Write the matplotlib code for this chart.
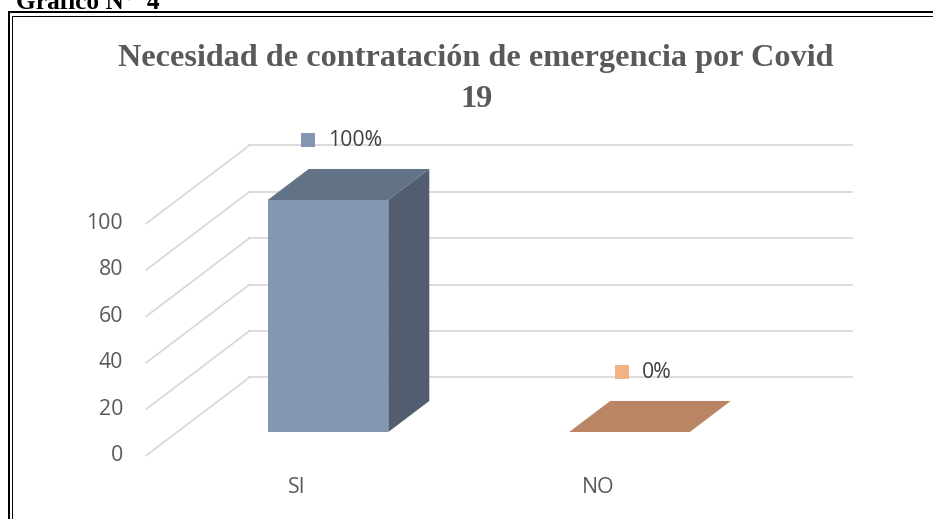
import matplotlib
matplotlib.use('Agg')  # Use non-interactive backend
import matplotlib.pyplot as plt
from matplotlib.patches import Polygon
from matplotlib.lines import Line2D
from matplotlib.transforms import offset_copy, IdentityTransform

# Data
categories = ['SI', 'NO']
values = [100, 0]
value_labels = ['100%', '0%']
y_ticks = [0, 20, 40, 60, 80, 100]

front_colors = ['#8497B0', '#F4B183']
top_colors = ['#637387', '#B98564']
side_colors = ['#525E6F', '#A0705A']
key_colors = ['#8497B0', '#F4B183']

TEXT_GREY = '#595959'
GRID = '#D9D9D9'

W, H, DPI = 933, 519, 100
fig = plt.figure(figsize=(W / DPI, H / DPI), dpi=DPI)
ax = fig.add_axes([0, 0, 1, 1])
ax.set_axis_off()
# bar front plane: category 0 at x=328px, 301.5px per category; value 0 at y=87px, 2.32px per unit
ax.set_xlim(-328 / 301.5, (W - 328) / 301.5)
ax.set_ylim(-87 / 2.32, (H - 87) / 2.32)

SLOPE = 0.757          # vertical shift per px of depth
FLOOR_FRONT, FLOOR_BACK = -31, 72
BAR_DEPTH = 41
BAR_W = 0.4
ident = IdentityTransform()


def at_depth(d, dx=0, dy=0):
    return offset_copy(ax.transData, fig=fig, x=d + dx, y=d * SLOPE + dy, units='dots')


def depth_pt(x, y, d):
    px, py = ax.transData.transform((x, y))
    return (px + d, py + d * SLOPE)


# walls: back gridlines and side diagonals
for v in y_ticks:
    ax.plot([-0.5, 1.5], [v, v], color=GRID, lw=1.3, transform=at_depth(FLOOR_BACK), zorder=1)
    p0 = depth_pt(-0.5, v, FLOOR_FRONT)
    p1 = depth_pt(-0.5, v, FLOOR_BACK)
    ax.add_line(Line2D([p0[0], p1[0]], [p0[1], p1[1]], color=GRID, lw=1.3,
                       transform=ident, zorder=1))
    ax.text(-0.5, v, str(v), transform=at_depth(FLOOR_FRONT, dx=-23),
            ha='right', va='center', fontsize=15.3, color=TEXT_GREY, family='Open Sans')

# 3D bars
for i, v in enumerate(values):
    ax.bar(i, v, BAR_W, color=front_colors[i], zorder=3)
    left, right = i - BAR_W / 2, i + BAR_W / 2
    top = [depth_pt(left, v, 0), depth_pt(right, v, 0),
           depth_pt(right, v, BAR_DEPTH), depth_pt(left, v, BAR_DEPTH)]
    ax.add_patch(Polygon(top, closed=True, facecolor=top_colors[i], edgecolor='none',
                         transform=ident, zorder=3))
    if v > 0:
        side = [depth_pt(right, 0, 0), depth_pt(right, v, 0),
                depth_pt(right, v, BAR_DEPTH), depth_pt(right, 0, BAR_DEPTH)]
        ax.add_patch(Polygon(side, closed=True, facecolor=side_colors[i], edgecolor='none',
                             transform=ident, zorder=3))

    # category label at front edge of floor
    ax.text(i, 0, categories[i], transform=at_depth(FLOOR_FRONT, dy=-32),
            ha='center', va='center', fontsize=15.3, color=TEXT_GREY, family='Open Sans')

# data labels with legend key
renderer = fig.canvas.get_renderer()
for i, v in enumerate(values):
    t = ax.text(i, v, value_labels[i], transform=at_depth(BAR_DEPTH / 2, dx=6.5, dy=44),
                ha='center', va='center', fontsize=15.3, color='#404040', family='Open Sans',
                zorder=5)
    w = t.get_window_extent(renderer).width
    ax.plot(i, v, marker='s', ms=10, mew=0, color=key_colors[i], zorder=5,
            transform=at_depth(BAR_DEPTH / 2, dx=6.5 - w / 2 - 20, dy=44))

# title
fig.text(476 / W, 1 - 79 / H, 'Necesidad de contratación de emergencia por Covid\n19',
         ha='center', va='center', fontsize=23.2, fontweight='bold', color=TEXT_GREY,
         family='Liberation Serif', linespacing=1.55)

# document caption, cut at the top edge
fig.text(16 / W, 1 - 9 / H, 'Gráfico N°  4', ha='left', va='baseline', fontsize=18.3,
         fontweight='bold', color='black', family='Liberation Serif')

# double border of the chart box
for x0, y0, lw in [(9, 12, 2.0), (12, 15.5, 1.0)]:
    fig.add_artist(Line2D([x0, x0], [-5, H - y0], color='black', lw=lw * 0.72, transform=ident))
    fig.add_artist(Line2D([x0, W + 5], [H - y0, H - y0], color='black', lw=lw * 0.72,
                          transform=ident))

fig.savefig('out.png', dpi=DPI)
